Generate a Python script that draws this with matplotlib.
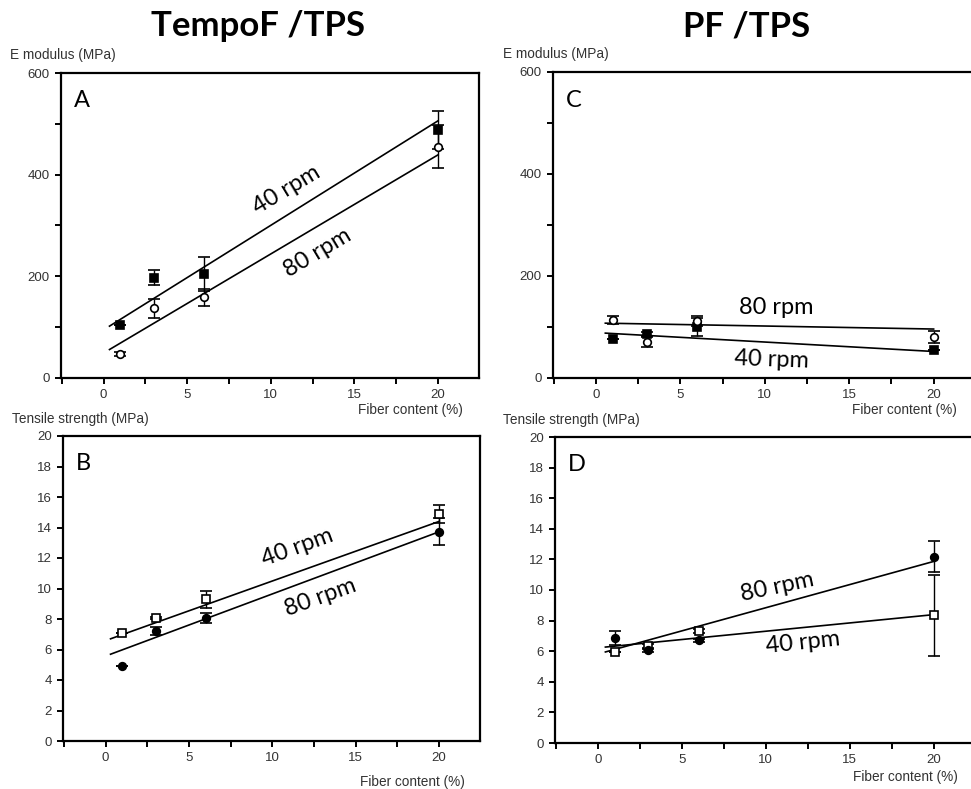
import matplotlib
matplotlib.use("Agg")
import matplotlib.pyplot as plt
from matplotlib.ticker import MultipleLocator

W, H = 971, 789

# fiber content (%)
fiber = [1, 3, 6, 20]

# A: E modulus TempoF/TPS
A_40 = [105, 197, 205, 488]
A_40_err = [0, 15, 33, 38]
A_80 = [48, 137, 159, 455]
A_80_err = [4, 18, 17, 42]
A_fit_x = [0.35, 20]
A_fit_40 = [102, 506]
A_fit_80 = [56, 439]

# B: tensile strength TempoF/TPS
B_40 = [7.11, 8.05, 9.28, 14.88]
B_40_err = [0, 0.08, 0.55, 0.6]
B_80 = [4.9, 7.22, 8.07, 13.72]
B_80_err = [0, 0.25, 0.3, 0.9]
B_fit_x = [0.3, 20]
B_fit_40 = [6.7, 14.4]
B_fit_80 = [5.69, 13.72]

# C: E modulus PF/TPS
C_40 = [77, 87, 100, 54]
C_40_err = [0, 4, 17, 0]
C_80 = [113, 70, 111, 81]
C_80_err = [8, 10, 10, 12]
C_fit_x = [0.55, 20]
C_fit_40 = [88, 52]
C_fit_80 = [107.5, 96]

# D: tensile strength PF/TPS
D_40 = [5.95, 6.34, 7.32, 8.34]
D_40_err = [0, 0.1, 0.1, 2.67]
D_80 = [6.86, 6.06, 6.71, 12.18]
D_80_err = [0.44, 0.08, 0.1, 1.0]
D_fit_x = [0.45, 20]
D_fit_40 = [6.27, 8.39]
D_fit_80 = [5.95, 11.87]

tick_font = "Liberation Sans"
lab_font = "Lato"

fig = plt.figure(figsize=(W / 100, H / 100), dpi=100)


def add_ax(left, top, right, bottom):
    return fig.add_axes([left / W, 1 - bottom / H, (right - left) / W, (bottom - top) / H])


def style(ax, ymax, ymaj, ymin=None):
    ax.set_xlim(-2.55, 22.45)
    ax.set_ylim(0, ymax)
    ax.xaxis.set_major_locator(MultipleLocator(5))
    ax.xaxis.set_minor_locator(MultipleLocator(2.5))
    ax.yaxis.set_major_locator(MultipleLocator(ymaj))
    if ymin:
        ax.yaxis.set_minor_locator(MultipleLocator(ymin))
    for s in ax.spines.values():
        s.set_linewidth(1.6)
    ax.tick_params(which="both", direction="out", width=1.4, colors="black",
                   labelcolor="#333333", labelsize=9.5)
    ax.tick_params(which="major", length=4, pad=4)
    ax.tick_params(which="minor", length=4)
    for t in ax.get_xticklabels() + ax.get_yticklabels():
        t.set_fontfamily(tick_font)


def series(ax, y, err, marker, filled):
    ax.errorbar(fiber, y, yerr=err, fmt=marker, ms=5.5, color="black",
                mfc="black" if filled else "white", mec="black", mew=1.2,
                ecolor="black", elinewidth=1.0, capsize=4, capthick=1.0, zorder=3)


def rpm(ax, x, y, s, rot):
    ax.text(x, y, s, fontsize=17, fontfamily=lab_font, rotation=rot,
            rotation_mode="anchor", ha="center", va="center")


def ftext(px, py, s, **kw):
    fig.text(px / W, 1 - py / H, s, **kw)


# Panel A
axA = add_ax(61, 73, 479, 378)
axA.plot(A_fit_x, A_fit_40, color="black", lw=1.2)
axA.plot(A_fit_x, A_fit_80, color="black", lw=1.2)
series(axA, A_40, A_40_err, "s", True)
series(axA, A_80, A_80_err, "o", False)
style(axA, 600, 200, 100)
rpm(axA, 10.96, 370, "40 rpm", 31)
rpm(axA, 12.8, 246, "80 rpm", 31)
axA.text(-1.8, 545, "A", fontsize=17, fontfamily=lab_font, va="center")

# Panel C
axC = add_ax(553, 72, 975, 378)
axC.plot(C_fit_x, C_fit_80, color="black", lw=1.2)
axC.plot(C_fit_x, C_fit_40, color="black", lw=1.2)
series(axC, C_40, C_40_err, "s", True)
series(axC, C_80, C_80_err, "o", False)
style(axC, 600, 200, 100)
axC.spines["right"].set_visible(False)
rpm(axC, 10.65, 139, "80 rpm", 0)
rpm(axC, 10.4, 35, "40 rpm", -2)
axC.text(-1.8, 545, "C", fontsize=17, fontfamily=lab_font, va="center")

# Panel B
axB = add_ax(63, 436, 480, 741)
axB.plot(B_fit_x, B_fit_40, color="black", lw=1.2)
axB.plot(B_fit_x, B_fit_80, color="black", lw=1.2)
series(axB, B_40, B_40_err, "s", False)
series(axB, B_80, B_80_err, "o", True)
style(axB, 20, 2)
rpm(axB, 11.5, 12.72, "40 rpm", 20)
rpm(axB, 12.9, 9.44, "80 rpm", 20)
axB.text(-1.8, 18.2, "B", fontsize=17, fontfamily=lab_font, va="center")

# Panel D
axD = add_ax(555, 437, 975, 743)
axD.plot(D_fit_x, D_fit_80, color="black", lw=1.2)
axD.plot(D_fit_x, D_fit_40, color="black", lw=1.2)
series(axD, D_40, D_40_err, "s", False)
series(axD, D_80, D_80_err, "o", True)
style(axD, 20, 2)
axD.spines["right"].set_visible(False)
rpm(axD, 10.7, 10.2, "80 rpm", 12)
rpm(axD, 12.2, 6.54, "40 rpm", 6)
axD.text(-1.8, 18.2, "D", fontsize=17, fontfamily=lab_font, va="center")

# axis labels
lab = dict(fontsize=9.8, fontfamily=tick_font, color="#333333", va="center")
ftext(10, 55, "E modulus (MPa)", ha="left", **lab)
ftext(503, 54, "E modulus (MPa)", ha="left", **lab)
ftext(12, 419, "Tensile strength (MPa)", ha="left", **lab)
ftext(503, 420, "Tensile strength (MPa)", ha="left", **lab)
ftext(463, 410, "Fiber content (%)", ha="right", **lab)
ftext(957, 410, "Fiber content (%)", ha="right", **lab)
ftext(465, 782, "Fiber content (%)", ha="right", **lab)
ftext(958, 777, "Fiber content (%)", ha="right", **lab)

# column titles
ftext(258, 26, "TempoF /TPS", ha="center", va="center", fontsize=25,
      fontweight="bold", fontfamily=lab_font)
ftext(747, 26, "PF /TPS", ha="center", va="center", fontsize=25,
      fontweight="bold", fontfamily=lab_font)

fig.savefig("out.png", dpi=100)
